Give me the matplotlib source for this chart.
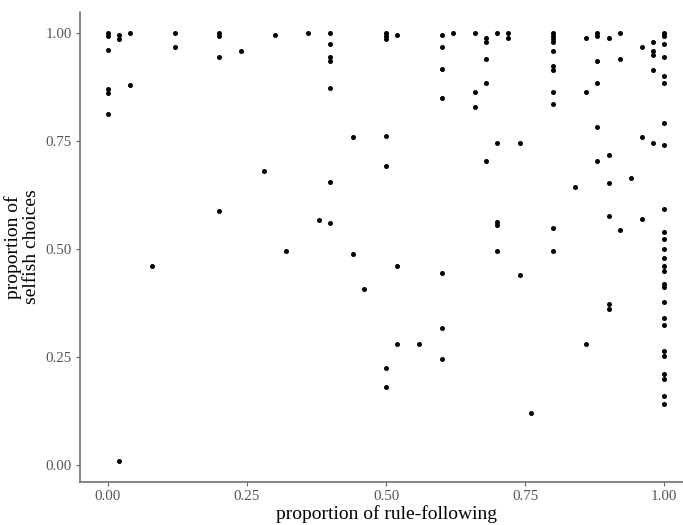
import matplotlib
matplotlib.use("Agg")
import matplotlib.pyplot as plt

## Data: proportion of rule-following (x) vs proportion of selfish choices (y) ##
rule_following = (
    [0.00] * 6 + [0.02] * 3 + [0.04] * 2 + [0.08] + [0.12] * 2 + [0.20] * 4
    + [0.24] + [0.28] + [0.30] + [0.32] + [0.36] + [0.38] + [0.40] * 7
    + [0.44] * 2 + [0.46] + [0.50] * 7 + [0.52] * 3 + [0.56] + [0.60] * 7
    + [0.62] + [0.66] * 3 + [0.68] * 5 + [0.70] * 5 + [0.72] * 2 + [0.74] * 2
    + [0.76] + [0.80] * 11 + [0.84] + [0.86] * 3 + [0.88] * 6 + [0.90] * 6
    + [0.92] * 3 + [0.94] + [0.96] * 3 + [0.98] * 5 + [1.00] * 26
)
selfish = [
    1.0, 0.995, 0.962, 0.87, 0.862, 0.814,            # 0.00
    0.996, 0.988, 0.01,                                # 0.02
    1.0, 0.88,                                         # 0.04
    0.461,                                             # 0.08
    1.0, 0.968,                                        # 0.12
    1.0, 0.995, 0.946, 0.589,                          # 0.20
    0.958, 0.681, 0.996, 0.495, 1.0, 0.567,            # 0.24 - 0.38
    1.0, 0.975, 0.946, 0.936, 0.873, 0.655, 0.561,     # 0.40
    0.759, 0.488, 0.407,                               # 0.44, 0.46
    1.0, 0.993, 0.987, 0.763, 0.693, 0.224, 0.18,      # 0.50
    0.996, 0.461, 0.28,                                # 0.52
    0.28,                                              # 0.56
    0.996, 0.968, 0.917, 0.851, 0.444, 0.318, 0.246,   # 0.60
    1.0,                                               # 0.62
    1.0, 0.864, 0.829,                                 # 0.66
    0.99, 0.98, 0.94, 0.886, 0.704,                    # 0.68
    1.0, 0.747, 0.562, 0.555, 0.495,                   # 0.70
    1.0, 0.99,                                         # 0.72
    0.747, 0.441,                                      # 0.74
    0.12,                                              # 0.76
    1.0, 0.993, 0.986, 0.98, 0.958, 0.924, 0.914, 0.864, 0.836, 0.549, 0.495,  # 0.80
    0.643,                                             # 0.84
    0.99, 0.864, 0.28,                                 # 0.86
    1.0, 0.995, 0.936, 0.886, 0.782, 0.704,            # 0.88
    0.99, 0.719, 0.654, 0.577, 0.374, 0.362,           # 0.90
    1.0, 0.94, 0.545,                                  # 0.92
    0.665,                                             # 0.94
    0.968, 0.759, 0.570,                               # 0.96
    0.98, 0.958, 0.95, 0.914, 0.747,                   # 0.98
    1.0, 0.995, 0.975, 0.946, 0.902, 0.886, 0.792, 0.741, 0.593, 0.540,
    0.523, 0.501, 0.480, 0.46, 0.45, 0.42, 0.413, 0.378, 0.340, 0.324,
    0.265, 0.252, 0.21, 0.2, 0.160, 0.142,             # 1.00
]
ticks = [0.0, 0.25, 0.5, 0.75, 1.0]
tick_labels = ["0.00", "0.25", "0.50", "0.75", "1.00"]

plt.rcParams['font.family'] = ['Liberation Serif', 'DejaVu Serif']

## Figure ##
W, H = 683, 525
fig = plt.figure(figsize=(W / 100, H / 100), dpi=100)
# panel: left 80px, right 692px (cropped by image edge), top 12px, bottom 482px
ax = fig.add_axes([80 / W, (H - 482) / H, (692 - 80) / W, (482 - 12) / H])

ax.scatter(rule_following, selfish, s=13, color='black', linewidths=0, zorder=3)

ax.set_xlim(-0.05, 1.05)
ax.set_ylim(0.01 - 0.0495, 1.0 + 0.0495)
ax.set_xticks(ticks)
ax.set_xticklabels(tick_labels)
ax.set_yticks(ticks)
ax.set_yticklabels(tick_labels)

for side in ['top', 'right']:
    ax.spines[side].set_visible(False)
for side in ['left', 'bottom']:
    ax.spines[side].set_color('#666666')
    ax.spines[side].set_linewidth(1.1)
ax.tick_params(axis='both', direction='out', length=3, width=0.8,
               color='#666666', labelcolor='#555555', labelsize=10.8, pad=3)

ax.set_xlabel('proportion of rule-following', fontsize=14, labelpad=1)
ax.set_ylabel('proportion of\nselfish choices', fontsize=14, labelpad=4,
              linespacing=1.05)

fig.savefig('out.png', dpi=100)
